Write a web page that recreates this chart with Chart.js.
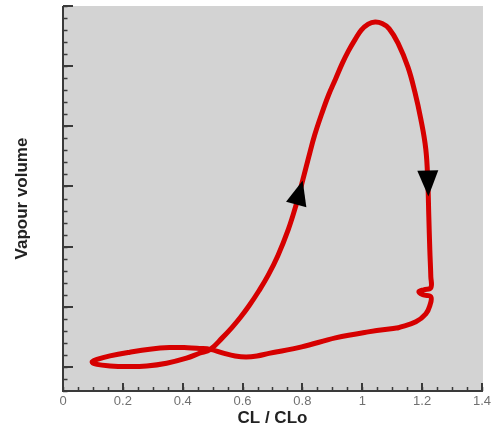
<!DOCTYPE html>
<html><head><meta charset="utf-8">
<script src="https://cdn.jsdelivr.net/npm/chart.js@4.4.0/dist/chart.umd.min.js"></script>
<style>html,body{margin:0;padding:0;background:#fff;}#wrap{width:494px;height:430px;}</style>
</head><body><div id="wrap"><canvas id="c" width="494" height="430"></canvas></div>
<script>
// CL / CLo (x) and vapour volume (y, arbitrary units) along the closed cycle
const clRatio = [1.1195,1.0199,0.9104,0.7976,0.6880,0.6482,0.6117,0.5752,0.5387,0.4922,0.4557,0.4159,0.3561,0.2897,0.2233,0.1570,0.1138,0.0972,0.1138,0.1570,0.2134,0.2798,0.3462,0.4125,0.4557,0.4922,0.5321,0.5636,0.5918,0.6217,0.6549,0.6848,0.7179,0.7527,0.7793,0.8009,0.8208,0.8407,0.8639,0.8871,0.9104,0.9336,0.9535,0.9768,0.9967,1.0199,1.0431,1.0664,1.0896,1.1195,1.1527,1.1759,1.1958,1.2124,1.2191,1.2224,1.2257,1.2291,1.2291,1.2058,1.1892,1.2025,1.2291,1.2257,1.2124,1.1792,1.1195];
const vapour = [0.650,0.583,0.483,0.333,0.225,0.183,0.167,0.183,0.225,0.292,0.308,0.320,0.322,0.295,0.245,0.183,0.125,0.083,0.042,0.017,0.008,0.017,0.062,0.145,0.228,0.292,0.483,0.650,0.817,1.017,1.267,1.517,1.850,2.283,2.700,3.100,3.483,3.850,4.200,4.517,4.783,5.050,5.250,5.450,5.600,5.700,5.733,5.708,5.625,5.383,4.983,4.567,4.117,3.617,3.067,2.500,1.950,1.500,1.317,1.283,1.250,1.200,1.167,1.017,0.883,0.750,0.650];
// direction arrows: tail and tip in data units
const arrowTailX = [0.7793, 1.219];
const arrowTailY = [2.70, 3.267];
const arrowTipX = [0.8009, 1.221];
const arrowTipY = [3.10, 2.833];
// axis ticks
const xTickLabels = ['0','0.2','0.4','0.6','0.8','1','1.2','1.4'];
const xMajorTicks = [0,0.2,0.4,0.6,0.8,1.0,1.2,1.4];
const xMinorStep = 0.05;
const yMajorTicks = [0,1,2,3,4,5,6];
const yMinorStep = 0.2;
const xMin = 0, xMax = 1.4, yMin = -0.4, yMax = 6;

const points = clRatio.map((x, i) => ({x: x, y: vapour[i]}));

const framePlugin = {
  id: 'frame',
  beforeDraw(chart) {
    const {ctx, chartArea: a} = chart;
    ctx.save();
    ctx.fillStyle = '#d3d3d3';
    ctx.fillRect(a.left, a.top, a.right - a.left + 1, a.bottom - a.top);
    ctx.restore();
  },
  afterDatasetsDraw(chart) {
    const {ctx} = chart;
    const xs = chart.scales.x, ys = chart.scales.y;
    ctx.save();
    ctx.fillStyle = '#000';
    for (let i = 0; i < arrowTailX.length; i++) {
      const bx = xs.getPixelForValue(arrowTailX[i]), by = ys.getPixelForValue(arrowTailY[i]);
      const tx = xs.getPixelForValue(arrowTipX[i]), ty = ys.getPixelForValue(arrowTipY[i]);
      const dx = tx - bx, dy = ty - by, L = Math.hypot(dx, dy);
      const nx = -dy / L, ny = dx / L, hw = 10.5;
      ctx.beginPath();
      ctx.moveTo(tx, ty);
      ctx.lineTo(bx + nx * hw, by + ny * hw);
      ctx.lineTo(bx - nx * hw, by - ny * hw);
      ctx.closePath();
      ctx.fill();
    }
    ctx.restore();
  },
  afterDraw(chart) {
    const {ctx, chartArea: a} = chart;
    const xs = chart.scales.x, ys = chart.scales.y;
    ctx.save();
    ctx.strokeStyle = '#3a3a3a';
    ctx.lineWidth = 1.5;
    ctx.beginPath();
    for (let v = xMin; v <= xMax + 1e-9; v += xMinorStep) {
      const p = Math.round(xs.getPixelForValue(v)) + 0.5;
      ctx.moveTo(p, a.bottom); ctx.lineTo(p, a.bottom - 4);
    }
    for (let v = yMin; v <= yMax + 1e-9; v += yMinorStep) {
      const p = Math.round(ys.getPixelForValue(v)) + 0.5;
      ctx.moveTo(a.left, p); ctx.lineTo(a.left + 4.5, p);
    }
    ctx.stroke();
    ctx.lineWidth = 2;
    ctx.beginPath();
    xMajorTicks.forEach(v => {
      const p = Math.round(xs.getPixelForValue(v));
      ctx.moveTo(p, a.bottom); ctx.lineTo(p, a.bottom - 8);
    });
    yMajorTicks.forEach(v => {
      const p = Math.round(ys.getPixelForValue(v));
      ctx.moveTo(a.left, p); ctx.lineTo(a.left + 10, p);
    });
    ctx.stroke();
    ctx.lineWidth = 2;
    ctx.beginPath();
    ctx.moveTo(a.left, a.top); ctx.lineTo(a.left, a.bottom);
    ctx.lineTo(a.right + 1, a.bottom);
    ctx.stroke();
    ctx.restore();
  }
};

new Chart(document.getElementById('c'), {
  type: 'scatter',
  data: {
    datasets: [{
      data: points,
      showLine: true,
      borderColor: '#d60000',
      borderWidth: 5,
      pointRadius: 0,
      tension: 0.4,
      borderCapStyle: 'round',
      borderJoinStyle: 'round'
    }]
  },
  options: {
    responsive: false,
    animation: false,
    layout: {padding: {top: 6, right: 10, left: 0, bottom: 0}},
    plugins: {legend: {display: false}, tooltip: {enabled: false}},
    scales: {
      x: {
        type: 'linear', min: xMin, max: xMax,
        afterBuildTicks(s) { s.ticks = xMajorTicks.map(v => ({value: v})); },
        afterFit(s) { s.height = 39; },
        grid: {display: false, drawTicks: false},
        border: {display: false},
        ticks: {
          padding: 3, color: '#707070', maxRotation: 0, autoSkip: false,
          font: {family: 'Liberation Sans, Arial, sans-serif', size: 13},
          callback: (v, i) => xTickLabels[i]
        },
        title: {display: true, text: 'CL / CLo', color: '#222',
          font: {family: 'Liberation Sans, Arial, sans-serif', size: 17, weight: 'bold'},
          padding: {top: 0, bottom: 1}}
      },
      y: {
        type: 'linear', min: yMin, max: yMax,
        afterFit(s) { s.width = 63; },
        grid: {display: false, drawTicks: false},
        border: {display: false},
        ticks: {display: false},
        title: {display: true, text: 'Vapour volume', color: '#222',
          font: {family: 'Liberation Sans, Arial, sans-serif', size: 17, weight: 'bold'},
          padding: {top: 12, bottom: 0}}
      }
    }
  },
  plugins: [framePlugin]
});
</script></body></html>
